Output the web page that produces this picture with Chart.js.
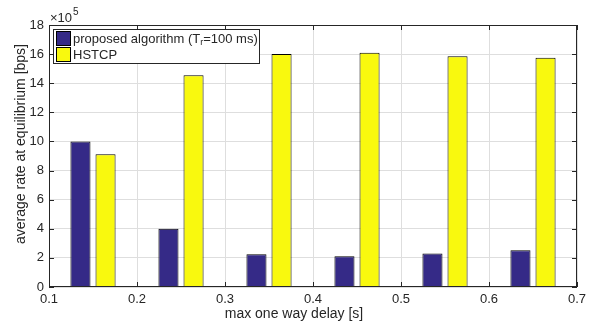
<!DOCTYPE html>
<html>
<head>
<meta charset="utf-8">
<script src="https://cdn.jsdelivr.net/npm/chart.js@4.4.1/dist/chart.umd.min.js"></script>
<style>
  html, body { margin: 0; padding: 0; background: #fff; }
  #wrap { width: 602px; height: 329px; }
</style>
</head>
<body>
<div id="wrap"><canvas id="chart" width="602" height="329"></canvas></div>
<script>
// values (rate in units of 1e5 bps)
const delays = [0.15, 0.25, 0.35, 0.45, 0.55, 0.65];
const proposedRate = [10.0, 4.0, 2.25, 2.12, 2.3, 2.52];
const hstcpRate = [9.12, 14.55, 16.0, 16.1, 15.85, 15.75];
const xTicks = [0.1, 0.2, 0.3, 0.4, 0.5, 0.6, 0.7];
const yTicks = [0, 2, 4, 6, 8, 10, 12, 14, 16, 18];
const seriesLabels = ["proposed algorithm (T_r=100 ms)", "HSTCP"];

const FONT = "'Liberation Sans', Arial, Helvetica, sans-serif";
const AXIS = "#262626";
const BLUE = "#352a87";
const YELLOW = "#f9f90e";

// MATLAB-style box, inward ticks, legend, exponent and axis labels
const matlabFrame = {
  id: "matlabFrame",
  afterDatasetsDraw(chart) {
    const { ctx, chartArea: a, scales } = chart;
    ctx.save();
    ctx.strokeStyle = AXIS;
    ctx.lineWidth = 1;
    ctx.strokeRect(a.left + 0.5, a.top + 0.5, a.right - a.left - 1, a.bottom - a.top - 1);

    ctx.beginPath();
    xTicks.forEach((v) => {
      const x = Math.round(scales.x.getPixelForValue(v)) + 0.5;
      ctx.moveTo(x, a.bottom); ctx.lineTo(x, a.bottom - 5);
      ctx.moveTo(x, a.top); ctx.lineTo(x, a.top + 5);
    });
    yTicks.forEach((v) => {
      const y = Math.round(scales.y.getPixelForValue(v)) + 0.5;
      ctx.moveTo(a.left, y); ctx.lineTo(a.left + 5, y);
      ctx.moveTo(a.right, y); ctx.lineTo(a.right - 5, y);
    });
    ctx.stroke();

    // exponent
    ctx.fillStyle = AXIS;
    ctx.textBaseline = "alphabetic";
    ctx.textAlign = "left";
    ctx.font = "13px " + FONT;
    ctx.fillText("\u00d710", a.left + 1, 22);
    const w10 = ctx.measureText("\u00d710").width;
    ctx.font = "10px " + FONT;
    ctx.fillText("5", a.left + 1 + w10 + 1, 15);

    // axis titles
    ctx.font = "14px " + FONT;
    ctx.textAlign = "center";
    ctx.textBaseline = "middle";
    ctx.fillText("max one way delay [s]", 294, 314);
    ctx.save();
    ctx.translate(21, 144);
    ctx.rotate(-Math.PI / 2);
    ctx.fillText("average rate at equilibrium [bps]", 0, 0);
    ctx.restore();

    // legend
    const lx = 53, ly = 29, lw = 206, lh = 34;
    ctx.fillStyle = "#fff";
    ctx.fillRect(lx, ly, lw, lh);
    ctx.strokeStyle = AXIS;
    ctx.strokeRect(lx + 0.5, ly + 0.5, lw, lh);
    const rows = [
      { color: BLUE, y: ly + 2 },
      { color: YELLOW, y: ly + 18 },
    ];
    rows.forEach((r) => {
      ctx.fillStyle = r.color;
      ctx.fillRect(lx + 3, r.y, 15, 15);
      ctx.strokeStyle = "#000";
      ctx.strokeRect(lx + 3.5, r.y + 0.5, 14, 14);
    });
    ctx.fillStyle = AXIS;
    ctx.textAlign = "left";
    ctx.textBaseline = "middle";
    const [main, rest] = seriesLabels[0].split("_");
    let tx = lx + 20;
    ctx.font = "13px " + FONT;
    ctx.fillText(main, tx, rows[0].y + 8);
    tx += ctx.measureText(main).width;
    ctx.font = "9px " + FONT;
    ctx.fillText(rest[0], tx, rows[0].y + 12);
    tx += ctx.measureText(rest[0]).width;
    ctx.font = "13px " + FONT;
    ctx.fillText(rest.slice(1), tx, rows[0].y + 8);
    ctx.fillText(seriesLabels[1], lx + 20, rows[1].y + 8);
    ctx.restore();
  },
};

new Chart(document.getElementById("chart"), {
  type: "bar",
  data: {
    datasets: [
      {
        label: seriesLabels[0],
        data: delays.map((d, i) => ({ x: d, y: proposedRate[i] })),
        backgroundColor: BLUE,
        borderColor: "#000",
        borderWidth: 1,
      },
      {
        label: seriesLabels[1],
        data: delays.map((d, i) => ({ x: d, y: hstcpRate[i] })),
        backgroundColor: YELLOW,
        borderColor: "#000",
        borderWidth: 1,
      },
    ],
  },
  options: {
    responsive: false,
    animation: false,
    devicePixelRatio: 1,
    categoryPercentage: 0.57,
    barPercentage: 0.8,
    layout: { padding: { left: 0, top: 25, right: 25, bottom: 0 } },
    scales: {
      x: {
        type: "linear",
        min: 0.1,
        max: 0.7,
        offset: false,
        afterFit: (scale) => { scale.height = 42; },
        afterBuildTicks: (scale) => { scale.ticks = xTicks.map((v) => ({ value: v })); },
        grid: { color: "#dedede", drawTicks: false, offset: false },
        border: { display: false },
        ticks: {
          padding: 5,
          color: AXIS,
          font: { family: FONT, size: 13 },
          callback: (v) => v.toFixed(1),
        },
      },
      y: {
        min: 0,
        max: 18,
        afterFit: (scale) => { scale.width = 49; },
        afterBuildTicks: (scale) => { scale.ticks = yTicks.map((v) => ({ value: v })); },
        grid: { color: "#dedede", drawTicks: false },
        border: { display: false },
        ticks: {
          padding: 5,
          color: AXIS,
          font: { family: FONT, size: 13 },
        },
      },
    },
    plugins: {
      legend: { display: false },
      tooltip: { enabled: false },
    },
  },
  plugins: [matlabFrame],
});
</script>
</body>
</html>
